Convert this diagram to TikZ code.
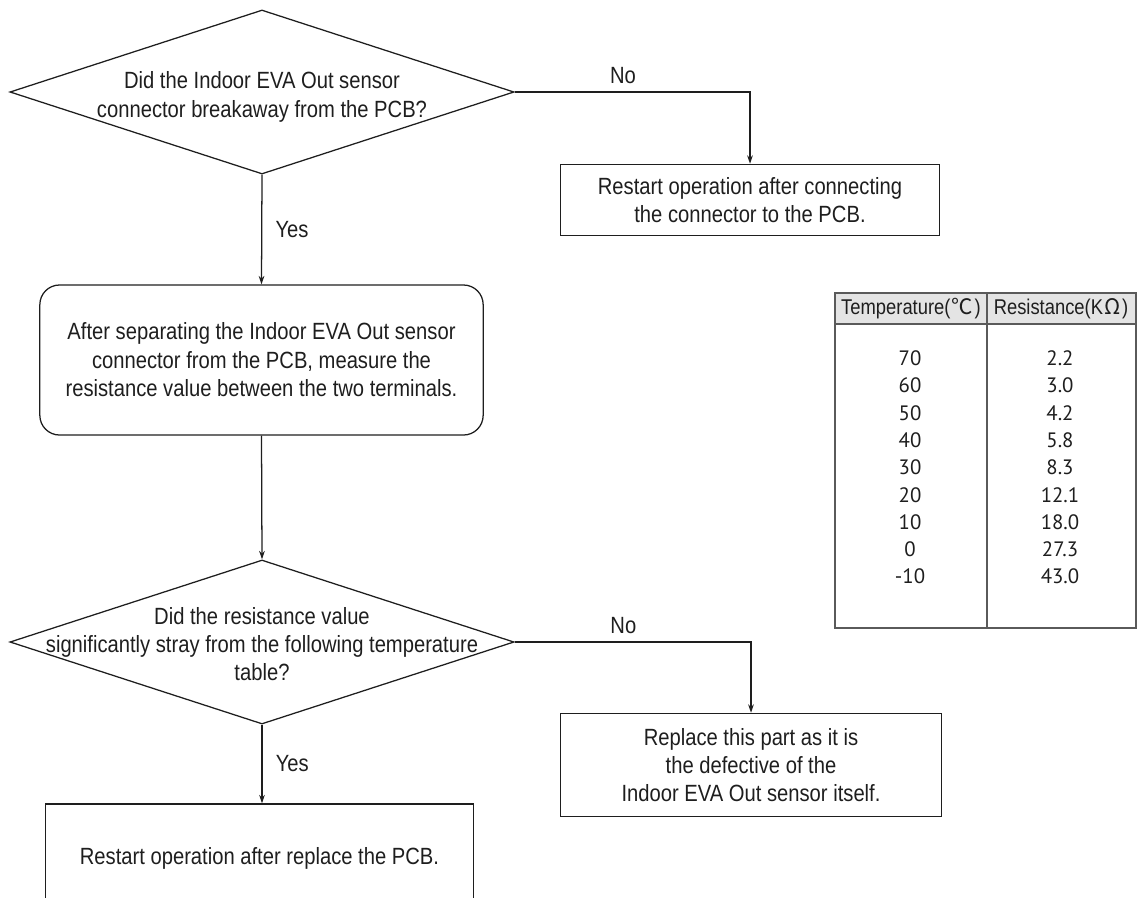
\documentclass[tikz,border=0pt]{standalone}
\usepackage{fontspec}
\setmainfont{Liberation Sans}[FakeStretch=0.86]
\newfontfamily\numfont{PT Sans}
\newfontfamily\cjkfont{Noto Sans CJK KR}
\usetikzlibrary{shapes.geometric,positioning,arrows.meta}
\definecolor{ink}{HTML}{1E1E1E}
\definecolor{rule}{HTML}{5A5A5A}
\definecolor{headgray}{HTML}{E4E4E4}

\begin{document}
\begin{tikzpicture}[x=0.025cm,y=-0.025cm,
    >={Stealth[length=6pt,width=4pt]},
    every node/.style={text=ink,font=\fontsize{16.7}{20.2}\selectfont},
    every path/.style={line width=0.9pt},
    decision/.style={draw=ink,diamond,inner sep=0pt,
      minimum width=12.6cm,minimum height=4.1cm},
    action/.style={draw=ink,rectangle,align=center,inner sep=0pt},
    cell/.style={font=\numfont\fontsize{14.8}{17}\selectfont},
    headcell/.style={font=\fontsize{15.2}{18}\selectfont}]

  \useasboundingbox (0,0) rectangle (1138,897);

  % Eerste vraag
  \node[decision] (q1) at (262,92) {};
  \node[align=center] (q1text) at (262,97)
    {Did the Indoor EVA Out sensor\\connector breakaway from the PCB?};

  % Connector opnieuw aansluiten
  \node[action,minimum width=9.48cm,minimum height=1.78cm] (reconnect) at (750,200)
    {Restart operation after connecting\\the connector to the PCB.};

  % Weerstand meten
  \node[action,rounded corners=14pt,minimum width=11.08cm,minimum height=3.75cm]
    (measure) at (261.5,360)
    {After separating the Indoor EVA Out sensor\\connector from the PCB, measure the\\resistance value between the two terminals.};

  % Tweede vraag
  \node[decision] (q2) at (262,642) {};
  \node[align=center] (q2text) at (262,644)
    {Did the resistance value\\significantly stray from the following temperature\\table?};

  % Sensor vervangen
  \node[action,minimum width=9.53cm,minimum height=2.58cm] (sensor) at (751,765)
    {Replace this part as it is\\the defective of the\\Indoor EVA Out sensor itself.};

  % PCB vervangen (onderkant valt buiten beeld)
  \node[action,minimum width=10.68cm,minimum height=2.7cm] (pcb) at (259.5,858)
    {Restart operation after replace the PCB.};

  % Verbindingen
  \draw[->,draw=ink] (q1.south) -- (measure.north)
    node[midway,right=6pt] (yes1) {Yes};
  \draw[->,draw=ink] (q1.east) -| node[pos=0.23,above=2pt] (no1) {No} (reconnect.north);
  \draw[->,draw=ink] (measure.south) -- (q2.north);
  \draw[->,draw=ink] (q2.south) -- (q2.south |- pcb.north)
    node[midway,right=6pt] (yes2) {Yes};
  \draw[->,draw=ink] (q2.east) -| node[pos=0.23,above=2pt] (no2) {No} (sensor.north);

  % Tabel
  \fill[headgray] (835,293) rectangle (1136,324);
  \draw[rule] (835,293) rectangle (1136,628);
  \draw[rule] (835,324) -- (1136,324);
  \draw[rule] (987,293) -- (987,628);
  \node[headcell] (htemp) at (911,309)
    {Temperature(\hspace{1pt}{\cjkfont ℃}\hspace{1pt})};
  \node[headcell] (hres) at (1061,309)
    {Resistance(K\hspace{1pt}{\cjkfont Ω}\hspace{1pt})};
  \foreach \t/\r [count=\i] in {70/2.2,60/3.0,50/4.2,40/5.8,30/8.3,
      20/12.1,10/18.0,0/27.3,-10/43.0} {
    \node[cell] (temp\i) at (910,{331+27.3*\i}) {\t};
    \node[cell] (res\i) at (1060,{331+27.3*\i}) {\r};
  }

\end{tikzpicture}
\end{document}
